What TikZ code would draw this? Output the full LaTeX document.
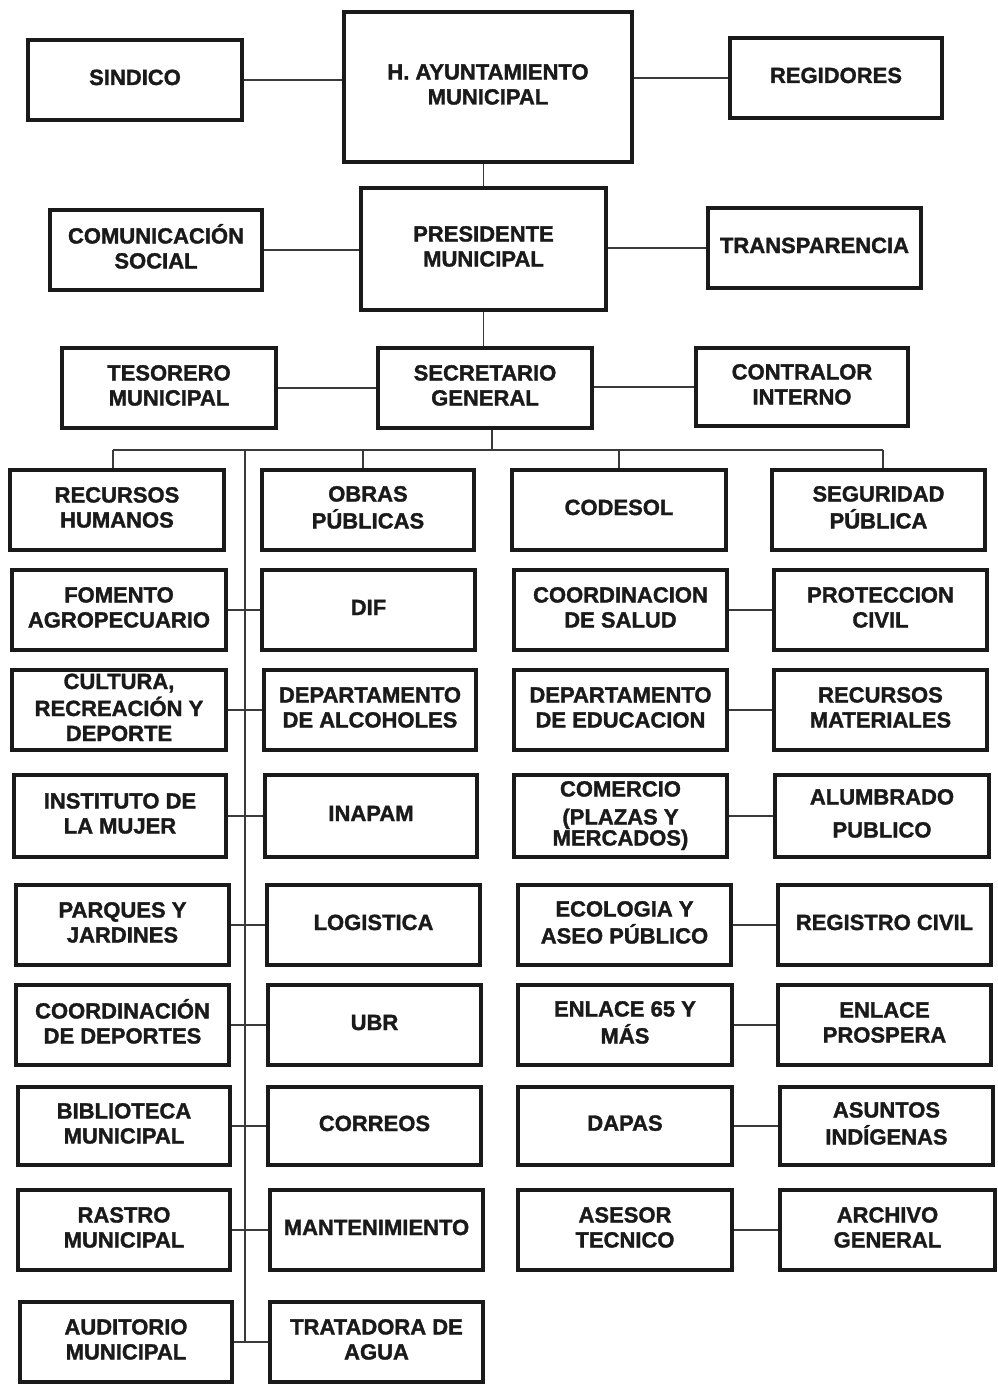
\documentclass[tikz,border=0pt]{standalone}
\usepackage{fontspec}
\setmainfont{Liberation Sans}[BoldFeatures={FakeBold=1.5}]
\definecolor{ink}{HTML}{1A1A1A}
\definecolor{wire}{HTML}{3A3A3A}
\tikzset{
  box/.style={draw=ink, line width=3.2pt, fill=white, inner sep=0pt, text=ink,
    font=\fontsize{22}{25}\bfseries\selectfont},
  wireline/.style={draw=wire, line width=1.4pt}
}
\newcommand\bx[7]{%
  \node[box, minimum width={(#4-#2)*1pt}, minimum height={(#5-#3)*1pt}] (#1)
    at ({(#2+#4)/2},{(#3+#5)/2})
    {\raisebox{\dimexpr #6pt-3pt\relax}{\begin{tabular}{@{}c@{}}#7\end{tabular}}};}
\begin{document}
\begin{tikzpicture}[x=1pt,y=-1pt]
\fill[white] (0,0) rectangle (997,1386);
\useasboundingbox (0,0) rectangle (997,1386);
% top levels
\bx{sind}{28}{40}{242}{120}{10}{SINDICO}
\bx{ayu}{344}{12}{632}{162}{6}{H. AYUNTAMIENTO\\MUNICIPAL}
\bx{reg}{730}{38}{942}{118}{8}{REGIDORES}
\bx{com}{50}{210}{262}{290}{2}{COMUNICACIÓN\\SOCIAL}
\bx{pres}{361}{188}{606}{310}{3}{PRESIDENTE\\MUNICIPAL}
\bx{trans}{708}{208}{921}{288}{5}{TRANSPARENCIA}
\bx{tes}{62}{348}{276}{428}{3}{TESORERO\\MUNICIPAL}
\bx{sec}{378}{348}{592}{428}{7}{SECRETARIO\\GENERAL}
\bx{cont}{696}{348}{908}{426}{4}{CONTRALOR\\INTERNO}
% row 1
\bx{rh}{10}{470}{224}{550}{0}{RECURSOS\\HUMANOS}
\bx{obras}{262}{470}{474}{550}{0}{OBRAS\\PÚBLICAS}
\bx{codesol}{512}{470}{726}{550}{1}{CODESOL}
\bx{seg}{772}{470}{985}{550}{3}{SEGURIDAD\\PÚBLICA}
% row 2
\bx{fom}{12}{570}{226}{650}{0}{FOMENTO\\AGROPECUARIO}
\bx{dif}{262}{570}{475}{650}{5}{DIF}
\bx{csal}{514}{570}{727}{650}{4}{COORDINACION\\DE SALUD}
\bx{pciv}{774}{570}{987}{650}{4}{PROTECCION\\CIVIL}
% row 3
\bx{cult}{12}{670}{226}{750}{2}{CULTURA,\\RECREACIÓN Y\\DEPORTE}
\bx{dalc}{264}{670}{476}{750}{3}{DEPARTAMENTO\\DE ALCOHOLES}
\bx{dedu}{514}{670}{727}{750}{2}{DEPARTAMENTO\\DE EDUCACION}
\bx{rmat}{774}{670}{987}{750}{1}{RECURSOS\\MATERIALES}
% row 4
\bx{imuj}{14}{775}{226}{857}{3}{INSTITUTO DE\\LA MUJER}
\bx{inapam}{265}{775}{477}{857}{5}{INAPAM}
\bx{comer}{514}{775}{727}{857}{9}{COMERCIO\\[3pt](PLAZAS Y\\[-4pt]MERCADOS)}
\bx{alum}{775}{775}{989}{857}{4.5}{ALUMBRADO\\[8pt]PUBLICO}
% row 5
\bx{parq}{16}{885}{229}{965}{0}{PARQUES Y\\JARDINES}
\bx{log}{267}{885}{480}{965}{0}{LOGISTICA}
\bx{eco}{518}{885}{731}{965}{2}{ECOLOGIA Y\\ASEO PÚBLICO}
\bx{rciv}{778}{885}{991}{965}{7}{REGISTRO CIVIL}
% row 6
\bx{cdep}{16}{985}{229}{1065}{0}{COORDINACIÓN\\DE DEPORTES}
\bx{ubr}{268}{985}{481}{1065}{7}{UBR}
\bx{e65}{518}{985}{732}{1065}{2}{ENLACE 65 Y\\MÁS}
\bx{epros}{778}{985}{991}{1065}{2}{ENLACE\\PROSPERA}
% row 7
\bx{bib}{18}{1087}{230}{1165}{1}{BIBLIOTECA\\MUNICIPAL}
\bx{corr}{268}{1087}{481}{1165}{6}{CORREOS}
\bx{dapas}{518}{1087}{732}{1165}{11}{DAPAS}
\bx{asun}{780}{1087}{993}{1165}{6}{ASUNTOS\\INDÍGENAS}
% row 8
\bx{rastro}{18}{1190}{230}{1270}{3}{RASTRO\\MUNICIPAL}
\bx{mant}{270}{1190}{483}{1270}{3}{MANTENIMIENTO}
\bx{ases}{518}{1190}{732}{1270}{5}{ASESOR\\TECNICO}
\bx{arch}{780}{1190}{995}{1270}{5}{ARCHIVO\\GENERAL}
% row 9
\bx{aud}{20}{1302}{232}{1382}{0}{AUDITORIO\\MUNICIPAL}
\bx{trat}{270}{1302}{483}{1382}{4}{TRATADORA DE\\AGUA}
% connector anchors
\coordinate (bus) at (492,450);
\coordinate (busL) at (113,450);
\coordinate (busO) at (363,450);
\coordinate (busC) at (619,450);
\coordinate (busR) at (883,450);
\coordinate (spT) at (245,450);
% top connectors
\draw[wireline] (sind.east) -- (sind.east -| ayu.west);
\draw[wireline] (reg.west) -- (reg.west -| ayu.east);
\draw[wireline] (pres.north) -- (pres.north |- ayu.south);
\draw[wireline] (com.east) -- (com.east -| pres.west);
\draw[wireline] (trans.west) -- (trans.west -| pres.east);
\draw[wireline] (pres.south) -- (pres.south |- sec.north);
\draw[wireline] (tes.east) -- (tes.east -| sec.west);
\draw[wireline] (cont.west) -- (cont.west -| sec.east);
\draw[wireline] (sec.south -| bus) -- (bus);
% bus and drops
\draw[wireline] (busL) -- (busR);
\draw[wireline] (busL) -- (busL |- rh.north);
\draw[wireline] (busO) -- (busO |- obras.north);
\draw[wireline] (busC) -- (busC |- codesol.north);
\draw[wireline] (busR) -- (busR |- seg.north);
\draw[wireline] (spT) -- (spT |- aud.east);
% left pairs
\foreach \a/\b in {fom/dif, cult/dalc, imuj/inapam, parq/log, cdep/ubr, bib/corr, rastro/mant, aud/trat}
  \draw[wireline] (\a.east) -- (\a.east -| \b.west);
% right pairs
\foreach \a/\b in {csal/pciv, dedu/rmat, comer/alum, eco/rciv, e65/epros, dapas/asun, ases/arch}
  \draw[wireline] (\a.east) -- (\a.east -| \b.west);
\end{tikzpicture}
\end{document}
